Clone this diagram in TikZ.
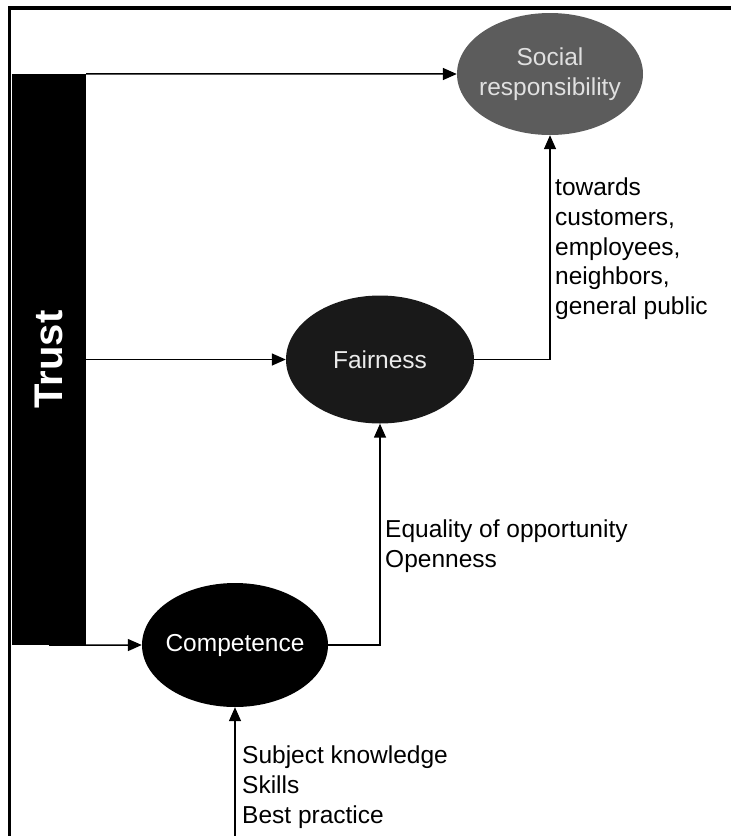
\documentclass[tikz,border=0pt]{standalone}
\usepackage{fontspec}
\setmainfont{Liberation Sans}
\usetikzlibrary{arrows.meta,shapes.geometric}
\tikzset{
  blob/.style={ellipse, inner ysep=0pt, inner xsep=-8pt, minimum width=186pt, minimum height=124pt,
    font=\fontsize{24.5}{30}\selectfont, align=center},
  txt/.style={font=\fontsize{24.5}{29.6}\selectfont, align=left, anchor=north west, inner sep=0pt},
  link/.style={line width=1.5pt, -{Triangle[length=14pt,width=12pt]}},
}
\begin{document}
\begin{tikzpicture}[x=1pt,y=-1pt]
    \useasboundingbox (0,0) rectangle (731,836);
    \draw [line width=3.2pt] (9.3,836) |- (731,8);
    \node [fill=black, minimum width=74pt, minimum height=571pt, inner sep=0pt] (trust) at (49,359.5)
        {\rotatebox{90}{\textcolor{white}{\fontsize{40}{40}\selectfont\bfseries Trust}}};
    \node [blob, fill=black!64, text=black!12, minimum height=122pt] (social) at (550,74) {Social\\responsibility};
    \node [blob, fill=black!90, text=black!8, minimum width=188pt, minimum height=128pt] (fair) at (380,359.5) {Fairness};
    \node [blob, fill=black, text=white] (comp) at (235,645) {Competence};
    \coordinate (src) at (235,836);
    \draw [link] (trust.north east) -- (social.west);
    \draw [link] (trust.east) -- (fair.west);
    \draw [link] (trust.south) -- (comp.west);
    \draw [link] (fair.east) -| (social.south);
    \draw [link] (comp.east) -| (fair.south);
    \draw [link] (src) -- (comp.south);
    \node [txt] (towards) at (555,178) {towards\\customers,\\employees,\\neighbors,\\general public};
    \node [txt] (equal) at (385,520) {Equality of opportunity\\Openness};
    \node [txt] (subject) at (242,746) {Subject knowledge\\Skills\\Best practice};
\end{tikzpicture}
\end{document}
